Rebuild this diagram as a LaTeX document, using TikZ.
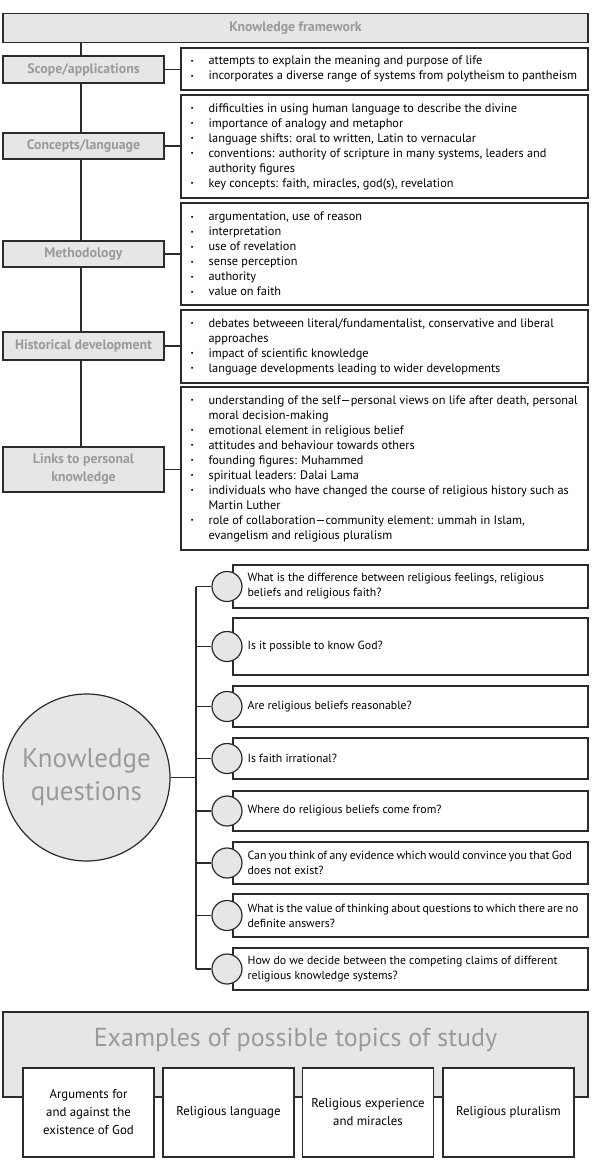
\documentclass[tikz,border=0pt]{standalone}
\usepackage{fontspec}
\setmainfont{PT Sans}
\definecolor{fillg}{HTML}{E6E6E6}
\definecolor{txtg}{HTML}{9A9A9A}
\definecolor{ln}{HTML}{2B2B2B}
\newcommand{\bu}{\makebox[18pt][l]{\raisebox{0.2ex}{\fontsize{7}{7}\selectfont\textbullet}}}
\newcommand{\ct}{\hspace*{18pt}}
\newcommand{\tight}{\spaceskip=0.2em plus 0.05em minus 0.05em\relax}
\tikzset{
 gbox/.style={draw=ln, line width=1.2pt, fill=fillg, inner sep=0pt},
 wbox/.style={draw=ln, line width=1.2pt, fill=white, inner sep=0pt},
 lbl/.style={font=\fontsize{13.8}{18}\selectfont\bfseries, text=txtg, align=center},
 btxt/.style={font=\fontsize{12.3}{15}\selectfont, align=left, inner sep=0pt, anchor=west},
 qtxt/.style={font=\fontsize{11.8}{15}\selectfont, align=left, inner sep=0pt, anchor=west},
 ttxt/.style={font=\fontsize{12.8}{18}\selectfont, align=center, inner sep=0pt},
 conn/.style={draw=ln, line width=1.2pt},
 qcirc/.style={gbox, circle, minimum size=30pt},
}
\begin{document}
\begin{tikzpicture}[x=1pt,y=-1pt]
\useasboundingbox (0,0) rectangle (594,1171);
% title bar
\node[gbox, lbl, minimum width=585pt, minimum height=29pt] (kf) at (295.5,28) {Knowledge framework};
% left boxes
\node[gbox, lbl, minimum width=161pt, minimum height=27pt] (scope) at (83.5,69.5) {Scope/applications};
\node[gbox, lbl, minimum width=161pt, minimum height=26pt] (conc) at (83.5,146) {Concepts/language};
\node[gbox, lbl, minimum width=161pt, minimum height=26pt] (meth) at (83.5,254) {Methodology};
\node[gbox, lbl, minimum width=161pt, minimum height=28pt] (hist) at (83.5,346) {Historical development};
\node[gbox, lbl, minimum width=161pt, minimum height=45pt] (links) at (83.5,469.5) {Links to personal\\knowledge};
\coordinate (vx) at (81,0);
\draw[conn] (kf.south -| vx) -- (scope.north -| vx);
\draw[conn] (scope.south -| vx) -- (conc.north -| vx);
\draw[conn] (conc.south -| vx) -- (meth.north -| vx);
\draw[conn] (meth.south -| vx) -- (hist.north -| vx);
\draw[conn] (hist.south -| vx) -- (links.north -| vx);
% right boxes
\node[wbox, minimum width=407pt, minimum height=42pt] (rscope) at (384.5,69) {};
\node[wbox, minimum width=407pt, minimum height=103pt] (rconc) at (384.5,146.5) {};
\node[wbox, minimum width=407pt, minimum height=102pt] (rmeth) at (384.5,254) {};
\node[wbox, minimum width=407pt, minimum height=73pt] (rhist) at (384.5,346.5) {};
\node[wbox, minimum width=407pt, minimum height=163pt] (rlinks) at (384.5,468.5) {};
\draw[conn] (scope.east) -- (scope.east -| rscope.west);
\draw[conn] (conc.east) -- (conc.east -| rconc.west);
\draw[conn] (meth.east) -- (meth.east -| rmeth.west);
\draw[conn] (hist.east) -- (hist.east -| rhist.west);
\draw[conn] (links.east) -- (links.east -| rlinks.west);
\node[btxt] (tscope) at ([xshift=10pt]rscope.west) {\bu attempts to explain the meaning and purpose of life\\
\bu incorporates a diverse range of systems from polytheism to pantheism};
\node[btxt] (tconc) at ([xshift=10pt]rconc.west) {\bu difficulties in using human language to describe the divine\\
\bu importance of analogy and metaphor\\
\bu language shifts: oral to written, Latin to vernacular\\
\bu conventions: authority of scripture in many systems, leaders and\\
\ct authority figures\\
\bu key concepts: faith, miracles, god(s), revelation};
\node[btxt] (tmeth) at ([xshift=10pt]rmeth.west) {\bu argumentation, use of reason\\
\bu interpretation\\
\bu use of revelation\\
\bu sense perception\\
\bu authority\\
\bu value on faith};
\node[btxt] (thist) at ([xshift=10pt]rhist.west) {\bu debates betweeen literal/fundamentalist, conservative and liberal\\
\ct approaches\\
\bu impact of scientific knowledge\\
\bu language developments leading to wider developments};
\node[btxt] (tlinks) at ([xshift=10pt]rlinks.west) {\bu understanding of the self---personal views on life after death, personal\\
\ct moral decision-making\\
\bu emotional element in religious belief\\
\bu attitudes and behaviour towards others\\
\bu founding figures: Muhammed\\
\bu spiritual leaders: Dalai Lama\\
\bu individuals who have changed the course of religious history such as\\
\ct Martin Luther\\
\bu role of collaboration---community element: ummah in Islam,\\
\ct evangelism and religious pluralism};
% knowledge questions
\node[gbox, circle, minimum size=167pt, font=\fontsize{27}{33}\selectfont, text=txtg, align=center] (kq) at (86.5,777.5) {Knowledge\\questions};
\coordinate (qx) at (196,0);
\foreach \n/\y/\h in {1/586.5/43, 2/646.5/57, 3/706.5/41, 4/758.5/41, 5/811/40, 6/863/42, 7/915.5/43, 8/969/42} {
  \node[wbox, minimum width=355pt, minimum height=\h pt] (q\n) at (410.5,\y) {};
  \node[qcirc] (c\n) at (227,\y) {};
  \draw[conn] (c\n.west -| qx) -- (c\n.west);
}
\draw[conn] (c1.west -| qx) -- (c8.west -| qx);
\draw[conn] (kq.east) -- (kq.east -| qx);
\node[qtxt] (t1) at ([xshift=15pt]q1.west) {What is the difference between religious feelings, religious\\beliefs and religious faith?};
\node[qtxt] (t2) at ([xshift=15pt]q2.west) {Is it possible to know God?};
\node[qtxt] (t3) at ([xshift=15pt]q3.west) {Are religious beliefs reasonable?};
\node[qtxt] (t4) at ([xshift=15pt]q4.west) {Is faith irrational?};
\node[qtxt] (t5) at ([xshift=15pt]q5.west) {Where do religious beliefs come from?};
\node[qtxt] (t6) at ([xshift=15pt]q6.west) {\tight Can you think of any evidence which would convince you that God\\does not exist?};
\node[qtxt] (t7) at ([xshift=15pt]q7.west) {\tight What is the value of thinking about questions to which there are no\\definite answers?};
\node[qtxt] (t8) at ([xshift=15pt]q8.west) {How do we decide between the competing claims of different\\religious knowledge systems?};
% examples
\node[gbox, minimum width=585pt, minimum height=85pt] (ex) at (295.5,1054.5) {};
\node[font=\fontsize{26}{26}\selectfont, text=txtg, inner sep=0pt] (extitle) at (295.5,1040) {Examples of possible topics of study};
\node[wbox, ttxt, minimum width=131pt, minimum height=89pt] (e1) at (88.5,1112.5) {Arguments for\\and against the\\existence of God};
\node[wbox, ttxt, minimum width=131pt, minimum height=89pt] (e2) at (228.5,1112.5) {Religious language};
\node[wbox, ttxt, minimum width=131pt, minimum height=89pt] (e3) at (368,1112.5) {Religious experience\\and miracles};
\node[wbox, ttxt, minimum width=131pt, minimum height=89pt] (e4) at (508.5,1112.5) {Religious pluralism};
\end{tikzpicture}
\end{document}
